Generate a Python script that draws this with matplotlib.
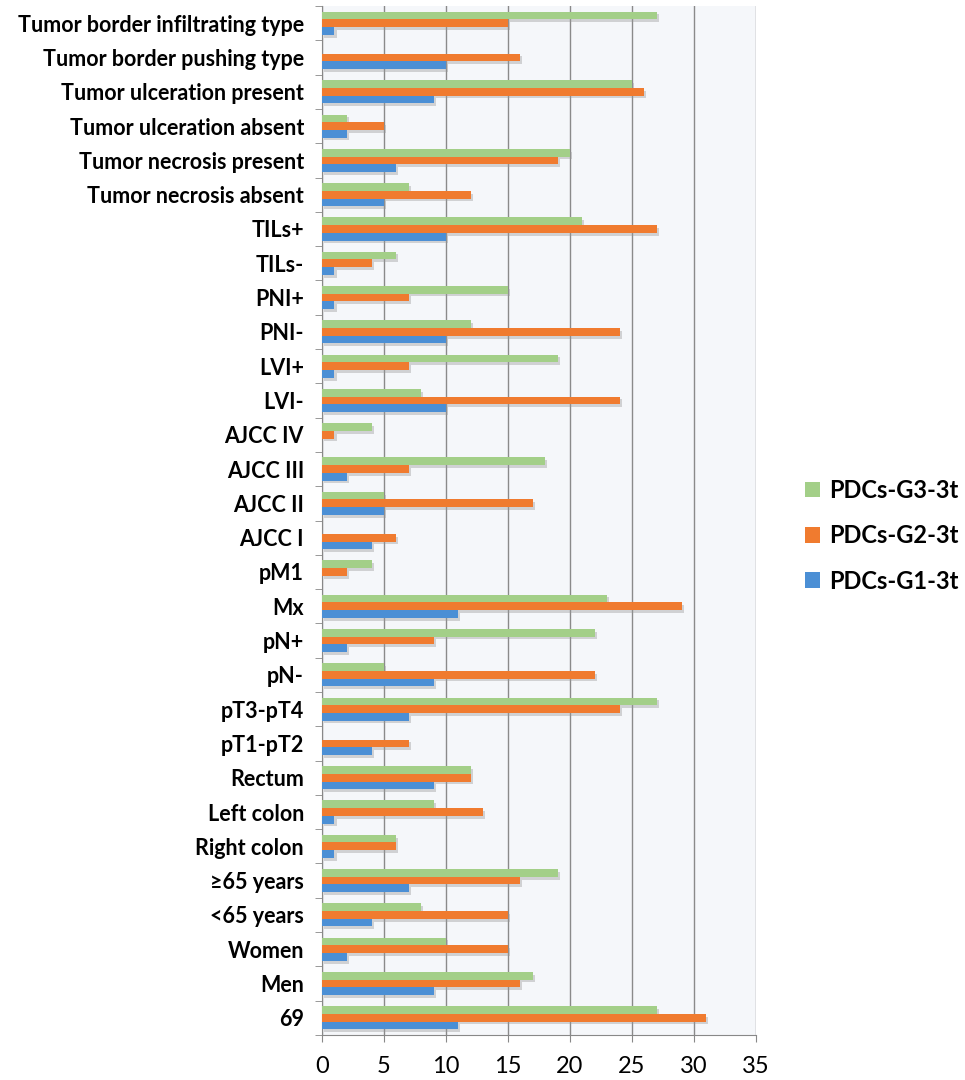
import numpy as np
import matplotlib
matplotlib.use("Agg")
import matplotlib.pyplot as plt
import matplotlib.patheffects as pe
from matplotlib.patches import Patch

# categories listed from bottom to top of the chart
categories = ['69', 'Men', 'Women', '<65 years', '\u226565 years',
              'Right colon', 'Left colon', 'Rectum', 'pT1-pT2', 'pT3-pT4',
              'pN-', 'pN+', 'Mx', 'pM1', 'AJCC I', 'AJCC II', 'AJCC III',
              'AJCC IV', 'LVI-', 'LVI+', 'PNI-', 'PNI+', 'TILs-', 'TILs+',
              'Tumor necrosis absent', 'Tumor necrosis present',
              'Tumor ulceration absent', 'Tumor ulceration present',
              'Tumor border pushing type', 'Tumor border infiltrating type']

g3 = [27, 17, 10, 8, 19, 6, 9, 12, 0, 27, 5, 22, 23, 4, 0, 5, 18, 4, 8, 19,
      12, 15, 6, 21, 7, 20, 2, 25, 0, 27]
g2 = [31, 16, 15, 15, 16, 6, 13, 12, 7, 24, 22, 9, 29, 2, 6, 17, 7, 1, 24, 7,
      24, 7, 4, 27, 12, 19, 5, 26, 16, 15]
g1 = [11, 9, 2, 4, 7, 1, 1, 9, 4, 7, 9, 2, 11, 0, 4, 5, 2, 0, 10, 1, 10, 1,
      1, 10, 5, 6, 2, 9, 10, 1]

series_names = ['PDCs-G3-3t', 'PDCs-G2-3t', 'PDCs-G1-3t']
colors = ['#a3cf88', '#f07b2f', '#4b8fd5']

plt.rcParams['font.family'] = ['Lato', 'DejaVu Sans']

fig = plt.figure(figsize=(9.65, 10.8), dpi=100)
ax = fig.add_axes([0.3337, 0.0417, 0.4497, 0.9527])
ax.set_facecolor('#f5f7fa')

y = np.arange(len(categories))
h = 0.225
shadow = [pe.SimplePatchShadow(offset=(1.5, -2), shadow_rgbFace='#999999', alpha=0.4),
          pe.Normal()]
for vals, off, c in zip([g3, g2, g1], [h, 0, -h], colors):
    bars = ax.barh(y + off, vals, height=h, color=c, zorder=3)
    for b in bars:
        b.set_path_effects(shadow)

ax.set_xlim(0, 35)
ax.set_ylim(-0.5, len(categories) - 0.5)
ax.set_xticks(np.arange(0, 36, 5))
ax.tick_params(axis='x', labelsize=17, length=5, color='#888888', pad=10)
ax.grid(axis='x', color='#8a8a8a', linewidth=1.0, zorder=0)

ax.set_yticks(y)
ax.set_yticklabels(categories, fontsize=15.5, fontweight='bold')
ax.set_yticks(np.arange(-0.5, len(categories), 1), minor=True)
ax.tick_params(axis='y', which='major', length=0, pad=13)
ax.tick_params(axis='y', which='minor', length=5, color='#888888')

for s in ['top', 'right']:
    ax.spines[s].set_visible(False)
for s in ['left', 'bottom']:
    ax.spines[s].set_color('#888888')

handles = [Patch(facecolor=c) for c in colors]
fig.legend(handles, series_names, loc='center left',
           bbox_to_anchor=(0.834, 0.504), frameon=False,
           borderpad=0, borderaxespad=0,
           prop={'size': 17, 'weight': 'bold'},
           handlelength=0.65, handleheight=0.65, handletextpad=0.4,
           labelspacing=0.95)

fig.savefig('out.png', dpi=100, facecolor='white')
